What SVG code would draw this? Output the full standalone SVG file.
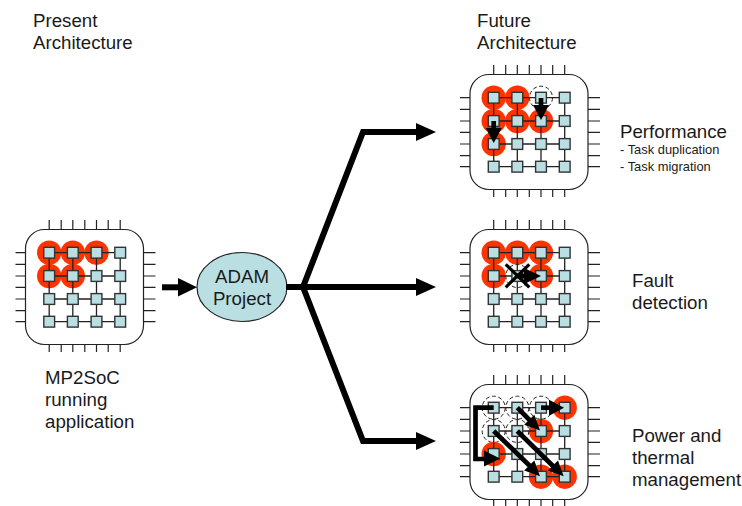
<svg xmlns="http://www.w3.org/2000/svg" width="742" height="506" viewBox="0 0 742 506">
<style>
text{font-family:"Liberation Sans",Arial,sans-serif;font-size:18.7px;fill:#1a1a1a}
text.s{font-size:12.9px}
.pin{stroke:#222;stroke-width:1.2;fill:none}
.body{fill:#fff;stroke:#222;stroke-width:1.2}
.grid{stroke:#222;stroke-width:1.3;fill:none}
.n{fill:#b9dfe2;stroke:#333;stroke-width:1.4}
.red{fill:#ff3300}
.dash{fill:#fff;stroke:#222;stroke-width:1;stroke-dasharray:4 2.500}
.w{stroke:#000;stroke-width:6;fill:none}
.w2{stroke:#000;stroke-width:4.700;fill:none}
.x{stroke:#000;stroke-width:3.200;fill:none}
.h{fill:#000}
</style>
<defs>
<g id="pins">
<path class="pin" d="M493.7 65V75M505.7 65V75M517.3 65V75M529.3 65V75M541 65V75M552.7 65V75M564.7 65V75M493.7 189V197M505.7 189V197M517.3 189V197M529.3 189V197M541 189V197M552.7 189V197M564.7 189V197M460 97.7H470M460 109.3H470M460 121H470M460 132.3H470M460 144H470M460 155.7H470M460 166.7H470M588 97.7H600M588 109.3H600M588 121H600M588 132.3H600M588 144H600M588 155.7H600M588 166.7H600"/>
<rect class="body" x="470" y="74.5" width="118" height="115" rx="19"/>
</g>
<g id="mesh">
<path class="grid" d="M493.7 97.7H564.7M493.7 121H564.7M493.7 144H564.7M493.7 166.7H564.7M493.7 97.7V166.7M517.3 97.7V166.7M541 97.7V166.7M564.7 97.7V166.7"/>
<rect class="n" x="488.3" y="92.3" width="10.8" height="10.8"/><rect class="n" x="511.9" y="92.3" width="10.8" height="10.8"/><rect class="n" x="535.6" y="92.3" width="10.8" height="10.8"/><rect class="n" x="559.3" y="92.3" width="10.8" height="10.8"/>
<rect class="n" x="488.3" y="115.6" width="10.8" height="10.8"/><rect class="n" x="511.9" y="115.6" width="10.8" height="10.8"/><rect class="n" x="535.6" y="115.6" width="10.8" height="10.8"/><rect class="n" x="559.3" y="115.6" width="10.8" height="10.8"/>
<rect class="n" x="488.3" y="138.6" width="10.8" height="10.8"/><rect class="n" x="511.9" y="138.6" width="10.8" height="10.8"/><rect class="n" x="535.6" y="138.6" width="10.8" height="10.8"/><rect class="n" x="559.3" y="138.6" width="10.8" height="10.8"/>
<rect class="n" x="488.3" y="161.3" width="10.8" height="10.8"/><rect class="n" x="511.9" y="161.3" width="10.8" height="10.8"/><rect class="n" x="535.6" y="161.3" width="10.8" height="10.8"/><rect class="n" x="559.3" y="161.3" width="10.8" height="10.8"/>
</g>
<circle id="r" class="red" r="12.2"/>
<circle id="d" class="dash" r="11.5"/>
</defs>

<text x="33" y="27">Present</text><text x="33" y="49">Architecture</text>
<text x="477" y="27">Future</text><text x="477" y="49">Architecture</text>

<g id="chip-present" transform="translate(-444.5 155)">
<use href="#pins"/>
<use href="#r" x="493.7" y="97.7"/><use href="#r" x="517.3" y="97.7"/><use href="#r" x="541" y="97.7"/><use href="#r" x="493.7" y="121"/><use href="#r" x="517.3" y="121"/>
<use href="#mesh"/>
</g>
<g id="label-present"><text x="45" y="383.500">MP2SoC</text><text x="45" y="405.500">running</text><text x="45" y="427.500">application</text></g>

<g id="adam">
<ellipse cx="242" cy="287" rx="45" ry="34.5" fill="#b9dfe2" stroke="#222" stroke-width="1.2"/>
<text x="242" y="282.500" text-anchor="middle">ADAM</text><text x="242" y="304.500" text-anchor="middle">Project</text>
</g>

<g id="chip-performance">
<use href="#pins"/>
<use href="#r" x="493.7" y="97.700"/><use href="#r" x="517.3" y="97.700"/><use href="#r" x="493.7" y="121"/><use href="#r" x="517.3" y="121"/><use href="#r" x="541" y="121"/><use href="#r" x="493.7" y="144"/>
<use href="#d" x="541" y="97.700"/>
<use href="#mesh"/>
<path class="w2" d="M541 98V108"/><path class="h" d="M541 120L533 105H549Z"/>
<path class="w2" d="M493.7 121V131"/><path class="h" d="M493.7 143L485.700 128H501.700Z"/>
</g>
<g id="label-performance"><text x="620" y="137.500">Performance</text><text class="s" x="620" y="153.500">- Task duplication</text><text class="s" x="620" y="170.500">- Task migration</text></g>

<g id="chip-fault" transform="translate(0 155)">
<use href="#pins"/>
<use href="#r" x="493.7" y="97.700"/><use href="#r" x="517.3" y="97.700"/><use href="#r" x="541" y="97.700"/><use href="#r" x="493.7" y="121"/><use href="#r" x="541" y="121"/>
<use href="#d" x="517.3" y="121"/>
<use href="#mesh"/>
<path class="w2" d="M517.3 121H530"/><path class="h" d="M541 121L524 113V129Z"/>
<path class="x" d="M505.7 109.300L529.3 132.300M529.3 109.300L505.7 132.300"/>
</g>
<g id="label-fault"><text x="632" y="286.500">Fault</text><text x="632" y="308.500">detection</text></g>

<g id="chip-power" transform="translate(0 310)">
<use href="#pins"/>
<use href="#d" x="493.7" y="97.700"/><use href="#d" x="517.3" y="97.700"/><use href="#d" x="541" y="97.700"/><use href="#d" x="493.7" y="121"/><use href="#d" x="517.3" y="121"/>
<use href="#r" x="564.7" y="97.700"/><use href="#r" x="541" y="121"/><use href="#r" x="493.7" y="144"/><use href="#r" x="541" y="166.700"/><use href="#r" x="564.7" y="166.700"/>
<use href="#mesh"/>
</g>
<g id="label-power"><text x="632" y="441.500">Power and</text><text x="632" y="463.500">thermal</text><text x="632" y="485.500">management</text></g>

<g id="connectors">
<path class="w" d="M162 287.300H180"/><path class="h" d="M197 287.300L178 278V296.500Z"/>
<path class="w" d="M286 287H420"/><path class="h" d="M436 287L416 278V296Z"/>
<path class="w" d="M303 287L363 132H420"/><path class="h" d="M436 132L416 123V141Z"/>
<path class="w" d="M303 287L363 441H420"/><path class="h" d="M436 441L416 432V450Z"/>
<g id="migrations">
<path class="w2" d="M493.700 407.700H475.500V459H488"/><path class="h" d="M500 458.500L484 450.500V466.500Z"/>
<path class="w2" d="M541 407.700H555"/><path class="h" d="M564 407.700L549 399.700V415.700Z"/>
<path class="w2" d="M517.300 407.700L531 421.500"/><path class="h" d="M540 430.500L524.200 424.800L534.300 414.700Z"/>
<path class="w2" d="M493.700 431L531 467"/><path class="h" d="M540 476.200L524.200 470.500L534.300 460.400Z"/>
<path class="w2" d="M517.300 431L554 467"/><path class="h" d="M563.700 476.200L547.900 470.500L558 460.400Z"/>
</g>
</g>
</svg>
